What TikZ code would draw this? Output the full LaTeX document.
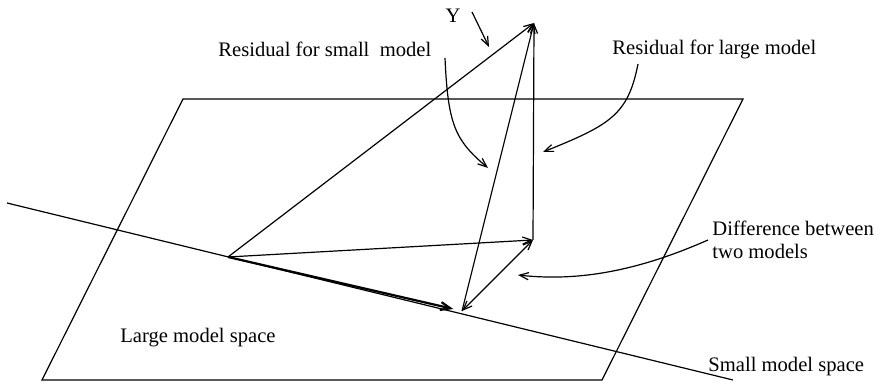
\documentclass[tikz,border=0pt]{standalone}
\usepackage{fontspec}
\setmainfont{Liberation Serif}
\usetikzlibrary{positioning, arrows.meta}

\begin{document}
\begin{tikzpicture}[
    x=0.5pt, y=-0.5pt,
    line/.style={line width=0.6pt},
    arrow/.style={line width=0.6pt, -{Straight Barb[length=4.5pt, width=3.6pt]}},
    dbl_arrow/.style={line width=0.6pt, {Straight Barb[length=4.5pt, width=3.6pt]}-{Straight Barb[length=4.5pt, width=3.6pt]}},
    fit_arrow/.style={line width=1.1pt, -{Straight Barb[length=5pt, width=4pt]}},
    lbl/.style={font=\fontsize{10.3}{11.5}\selectfont, inner sep=0pt, align=left}
]
\useasboundingbox (0,0) rectangle (888,383);

% Plane of the large model and line of the small model
\coordinate (tl) at (183,99);
\coordinate (tr) at (743,99);
\coordinate (br) at (602,380);
\coordinate (bl) at (42,380);
\draw[line] (tl) -- (tr) -- (br) -- (bl) -- cycle;
\coordinate (sl) at (7,203);
\coordinate (sr) at (733,380);
\draw[line] (sl) -- (sr);

% Origin, observation and the two fits
\coordinate (O) at (228,257);
\coordinate (Y) at (534,23);
\coordinate (P) at (533,240);
\coordinate (Q) at (462,311);

\draw[arrow] (O) -- (Y);
\draw[arrow] (O) -- (P);
\draw[fit_arrow, shorten >=4.5pt] (O) -- (Q);
\draw[arrow] (Q) -- (Y);
\draw[arrow] (P) -- (Y);
\draw[dbl_arrow] (P) -- (Q);

% Labels
\node[lbl] (ylbl) at (453,16) {Y};
\node[lbl, anchor=west] (rsmall) at (218,49) {Residual for small \ model};
\node[lbl, anchor=west] (rlarge) at (612,49) {Residual for large model};
\node[lbl, anchor=west] (diff) at (712,240) {Difference between\\two models};
\node[lbl, anchor=west] (lspace) at (120,338) {Large model space};
\node[lbl, anchor=west] (sspace) at (708,367) {Small model space};

% Pointers from the labels
\coordinate (y_tail) at (472,12);
\coordinate (y_head) at (489,47);
\draw[arrow] (y_tail) -- (y_head);
\coordinate (rs_tail) at (445,58);
\draw[arrow] (rs_tail) .. controls (448,125) and (455,140) .. (488,168);
\coordinate (rl_tail) at (638,64);
\draw[arrow] (rl_tail) .. controls (628,115) and (610,125) .. (543,152);
\draw[arrow] ([xshift=-2pt]diff.west) .. controls (640,270) and (580,282) .. (518,275);

\end{tikzpicture}
\end{document}
